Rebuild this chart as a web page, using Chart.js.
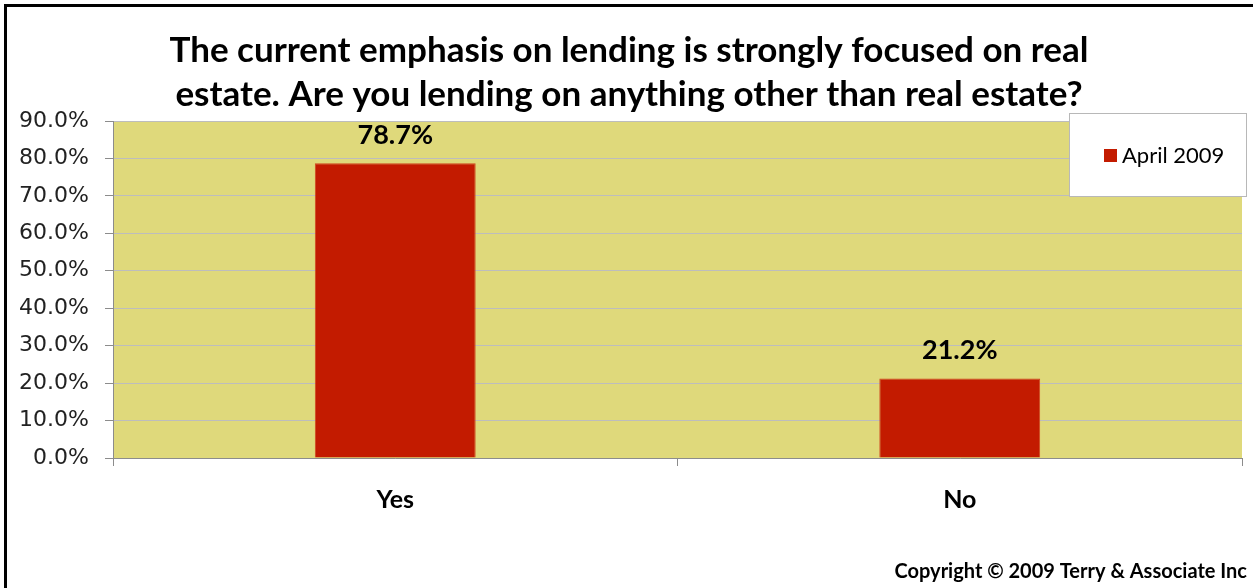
<!DOCTYPE html>
<html>
<head>
<meta charset="utf-8">
<script src="https://cdn.jsdelivr.net/npm/chart.js@4.4.1/dist/chart.umd.min.js"></script>
<style>
  html, body { margin: 0; padding: 0; background: #fff; }
  #wrap { width: 1253px; height: 588px; position: relative; }
</style>
</head>
<body>
<div id="wrap"><canvas id="grafico"></canvas></div>
<script>
// survey answers
const categorias = ['Yes', 'No'];
const respostas = [78.7, 21.2];
const serie = 'April 2009';
const marcasY = [0, 10, 20, 30, 40, 50, 60, 70, 80, 90];

const tituloLinhas = [
    'The current emphasis on lending is strongly focused on real',
    'estate. Are you lending on anything other than real estate?'
];
const rodape = 'Copyright \u00A9 2009 Terry & Associate Inc';

const corBarra = '#C31B00';
const corFundo = '#DFD97B';

// yellow plot background + frame lines
const fundoPlugin = {
    id: 'fundo',
    beforeDraw(chart) {
        const { ctx, chartArea: a } = chart;
        ctx.save();
        ctx.fillStyle = corFundo;
        ctx.fillRect(a.left, a.top, a.right - a.left, a.bottom - a.top);
        ctx.restore();
    },
    afterDraw(chart) {
        const ctx = chart.ctx;
        ctx.save();
        ctx.fillStyle = '#000';
        ctx.fillRect(4, 4, chart.width - 4, 3);
        ctx.fillRect(4, 4, 3, chart.height - 4);
        ctx.restore();
    }
};

// title, value labels, legend box and copyright
const textosPlugin = {
    id: 'textos',
    afterDatasetsDraw(chart) {
        const ctx = chart.ctx;
        const meta = chart.getDatasetMeta(0);
        ctx.save();
        ctx.fillStyle = '#000';
        ctx.font = 'bold 27px Lato';
        ctx.textAlign = 'center';
        ctx.textBaseline = 'middle';
        meta.data.forEach((bar, i) => {
            ctx.fillText(respostas[i].toFixed(1) + '%', bar.x, bar.y - 28);
        });
        ctx.restore();
    },
    afterDraw(chart) {
        const ctx = chart.ctx;
        ctx.save();
        ctx.fillStyle = '#000';
        ctx.font = 'bold 35px Lato';
        ctx.textAlign = 'center';
        ctx.textBaseline = 'middle';
        ctx.fillText(tituloLinhas[0], 629, 51);
        ctx.fillText(tituloLinhas[1], 629, 95);

        // legend
        ctx.fillStyle = '#fff';
        ctx.fillRect(1069, 113, 178, 84);
        ctx.strokeStyle = '#b8b8b8';
        ctx.lineWidth = 1;
        ctx.strokeRect(1069.5, 113.5, 177, 83);
        ctx.fillStyle = corBarra;
        ctx.fillRect(1104, 149, 13, 13);
        ctx.fillStyle = '#000';
        ctx.font = '22px Lato';
        ctx.textAlign = 'left';
        ctx.fillText(serie, 1122, 156);

        ctx.font = 'bold 20px Lato';
        ctx.textAlign = 'right';
        ctx.fillText(rodape, 1247, 572);
        ctx.restore();
    }
};

new Chart(document.getElementById('grafico'), {
    type: 'bar',
    data: {
        labels: categorias,
        datasets: [{
            label: serie,
            data: respostas,
            backgroundColor: corBarra,
            borderColor: '#D0451F',
            borderWidth: 1,
            barPercentage: 0.285,
            categoryPercentage: 1
        }]
    },
    options: {
        responsive: true,
        maintainAspectRatio: false,
        animation: false,
        layout: { padding: { left: 0, right: 11, top: 121, bottom: 0 } },
        plugins: {
            legend: { display: false },
            title: { display: false },
            tooltip: { enabled: false }
        },
        scales: {
            x: {
                offset: true,
                grid: {
                    offset: true,
                    drawOnChartArea: false,
                    drawTicks: true,
                    tickLength: 8,
                    color: '#8c8c8c'
                },
                border: { color: '#8c8c8c' },
                ticks: {
                    color: '#000',
                    font: { family: 'Lato', size: 25, weight: 'bold' },
                    padding: 19
                },
                afterFit(scale) { scale.height = 130; }
            },
            y: {
                min: 0,
                max: 90,
                afterBuildTicks(scale) {
                    scale.ticks = marcasY.map(v => ({ value: v }));
                },
                grid: {
                    color: '#bdbdbd',
                    tickColor: '#8c8c8c',
                    tickLength: 8
                },
                border: { color: '#8c8c8c' },
                ticks: {
                    color: '#222',
                    font: { family: 'DejaVu Sans', size: 22 },
                    padding: 16,
                    callback: v => v.toFixed(1) + '%'
                },
                afterFit(scale) { scale.width = 113; }
            }
        }
    },
    plugins: [fundoPlugin, textosPlugin]
});
</script>
</body>
</html>
